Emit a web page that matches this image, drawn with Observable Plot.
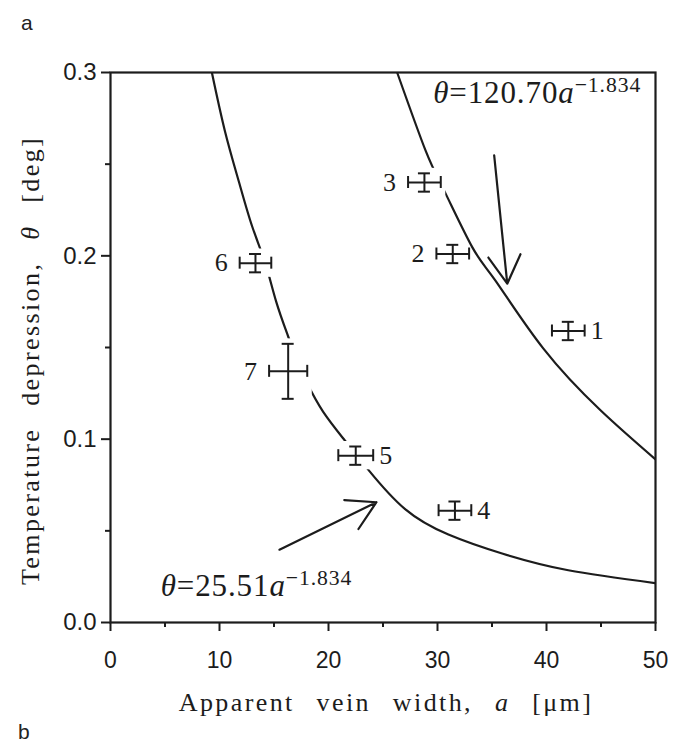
<!DOCTYPE html>
<html><head><meta charset="utf-8">
<script src="https://cdn.jsdelivr.net/npm/d3@7"></script>
<script src="https://cdn.jsdelivr.net/npm/@observablehq/plot@0.6"></script>
<style>
body{margin:0;background:#fff;}
#wrap{position:relative;width:687px;height:744px;overflow:hidden;background:#fff;}
.panel{position:absolute;z-index:2;font-family:"Liberation Sans",Arial,sans-serif;font-size:21px;color:#222;}
</style></head><body>
<div id="wrap"></div>
<script>
// ---- data ----
const ids = [1, 2, 3, 4, 5, 6, 7];
const widths = [42.0, 31.4, 28.8, 31.6, 22.5, 13.3, 16.3];          // a [µm]
const depressions = [0.159, 0.201, 0.240, 0.061, 0.091, 0.196, 0.137]; // θ [deg]
const widthErr = [1.5, 1.5, 1.5, 1.5, 1.6, 1.45, 1.75];
const depErr = [0.005, 0.005, 0.005, 0.005, 0.005, 0.005, 0.015];
const labelSide = ["right", "left", "left", "right", "right", "left", "left"];
const haloIds = [3, 5, 6, 7];

// fitted curves as drawn
const upperA = [26.3, 28.9, 30.6, 33.2, 35.3, 39.7, 45.0, 50.0];
const upperT = [0.300, 0.2575, 0.2357, 0.2046, 0.1866, 0.1495, 0.1155, 0.089];
const lowerA = [9.3, 10.5, 11.8, 13.0, 14.2, 15.2, 16.3, 17.1, 18.0, 19.5, 21.5, 23.7, 27.0, 31.0, 36.0, 42.0, 50.0];
const lowerT = [0.300, 0.268, 0.240, 0.216, 0.196, 0.175, 0.156, 0.143, 0.131, 0.115, 0.0993, 0.083, 0.062, 0.048, 0.0375, 0.0285, 0.0215];

// annotations
const curveLabels = ["*θ*=120.70*a*^−1.834^", "*θ*=25.51*a*^−1.834^"];
const curveLabelA = [29.6, 4.6];
const curveLabelT = [0.2835, 0.0145];
const arrowFromA = [35.2, 15.5], arrowFromT = [0.2548, 0.0397];
const arrowToA = [36.4, 24.4], arrowToT = [0.1848, 0.0656];

const xTicks = [0, 10, 20, 30, 40, 50];
const xMinor = [5, 15, 25, 35, 45];
const yTicks = [0, 0.1, 0.2, 0.3];
const yMinor = [0.05, 0.15, 0.25];
const xTitle = "Apparent vein width, *a* [μm]";
const yTitle = "Temperature depression, *θ* [deg]";

// ---- tables ----
const pts = ids.map((id, i) => ({id, a: widths[i], t: depressions[i], ea: widthErr[i], et: depErr[i], side: labelSide[i]}));
const upper = upperA.map((a, i) => ({a, t: upperT[i]}));
const lower = lowerA.map((a, i) => ({a, t: lowerT[i]}));
const labels = curveLabels.map((s, i) => ({s, a: curveLabelA[i], t: curveLabelT[i]}));
const arrows = arrowFromA.map((a, i) => ({a1: a, t1: arrowFromT[i], a2: arrowToA[i], t2: arrowToT[i]}));

const ink = "#1c1c1c";
const serif = "Liberation Serif, serif";

const chart = Plot.plot({
  width: 687, height: 744,
  marginLeft: 110, marginRight: 32, marginTop: 72, marginBottom: 122,
  style: {fontFamily: "Liberation Sans, sans-serif", fontSize: "22px", color: ink, background: "transparent"},
  x: {domain: [0, 50], label: null},
  y: {domain: [0, 0.3], label: null},
  marks: [
    Plot.line(upper, {x: "a", y: "t", curve: "natural", stroke: ink, strokeWidth: 2.2, clip: true}),
    Plot.line(lower, {x: "a", y: "t", curve: "natural", stroke: ink, strokeWidth: 2.2, clip: true}),
    Plot.rect(pts.filter(d => haloIds.includes(d.id)), {
      x1: d => d.a - d.ea, x2: d => d.a + d.ea, y1: d => d.t - d.et, y2: d => d.t + d.et,
      fill: "white", inset: -5
    }),
    Plot.link(pts, {x1: d => d.a - d.ea, x2: d => d.a + d.ea, y1: "t", y2: "t", stroke: ink, strokeWidth: 2}),
    Plot.link(pts, {x1: "a", x2: "a", y1: d => d.t - d.et, y2: d => d.t + d.et, stroke: ink, strokeWidth: 2}),
    Plot.ruleX(pts, {x: d => d.a - d.ea, y1: "t", y2: "t", insetTop: -6, insetBottom: -6, stroke: ink, strokeWidth: 2}),
    Plot.ruleX(pts, {x: d => d.a + d.ea, y1: "t", y2: "t", insetTop: -6, insetBottom: -6, stroke: ink, strokeWidth: 2}),
    Plot.ruleY(pts, {y: d => d.t - d.et, x1: "a", x2: "a", insetLeft: -6, insetRight: -6, stroke: ink, strokeWidth: 2}),
    Plot.ruleY(pts, {y: d => d.t + d.et, x1: "a", x2: "a", insetLeft: -6, insetRight: -6, stroke: ink, strokeWidth: 2}),
    Plot.text(pts.filter(d => d.side === "left"), {x: d => d.a - d.ea, y: "t", text: d => String(d.id), textAnchor: "end", dx: -12, fontSize: 26, fontFamily: serif, fill: ink}),
    Plot.text(pts.filter(d => d.side === "right"), {x: d => d.a + d.ea, y: "t", text: d => String(d.id), textAnchor: "start", dx: 6, fontSize: 26, fontFamily: serif, fill: ink}),
    Plot.arrow(arrows, {x1: "a1", y1: "t1", x2: "a2", y2: "t2", bend: 0, headLength: 22, stroke: ink, strokeWidth: 2.2}),
    Plot.text(labels, {x: "a", y: "t", text: "s", textAnchor: "start", lineAnchor: "bottom", fontSize: 31, fontFamily: serif, fill: ink}),
    Plot.frame({stroke: ink, strokeWidth: 2.2}),
    Plot.axisX({ticks: xTicks, tickSize: 9, tickPadding: 20, tickFormat: d3.format("d"), strokeWidth: 2, fontSize: 23, label: null}),
    Plot.axisX({ticks: xMinor, tickSize: 5, tickFormat: () => "", strokeWidth: 2, label: null}),
    Plot.axisY({ticks: yTicks, tickSize: 9, tickPadding: 5, tickFormat: d3.format(".1f"), strokeWidth: 2, fontSize: 24, label: null}),
    Plot.axisY({ticks: yMinor, tickSize: 5, tickFormat: () => "", strokeWidth: 2, label: null}),
    Plot.text([xTitle], {frameAnchor: "bottom", text: d => d, textAnchor: "middle", dy: 88, dx: 3, fontSize: 26, fontFamily: serif, fill: ink}),
    Plot.text([yTitle], {frameAnchor: "left", text: d => d, textAnchor: "middle", rotate: -90, dx: -80, dy: 13, fontSize: 26, fontFamily: serif, fill: ink})
  ]
});

const wrap = document.getElementById("wrap");
wrap.appendChild(chart);
const pa = document.createElement("div"); pa.className = "panel"; pa.style.left = "21px"; pa.style.top = "11px"; pa.textContent = "a";
const pb = document.createElement("div"); pb.className = "panel"; pb.style.left = "18px"; pb.style.top = "720px"; pb.textContent = "b";
wrap.appendChild(pa); wrap.appendChild(pb);

// rich text: *italic*, ^superscript^
const NS = "http://www.w3.org/2000/svg";
chart.querySelectorAll("text").forEach(t => {
  const s = t.textContent;
  if (!/[*^]/.test(s)) return;
  const isTitle = s === xTitle || s === yTitle;
  t.textContent = "";
  const re = /(\*[^*]+\*|\^[^^]+\^|[^*^]+)/g; let m;
  while ((m = re.exec(s))) {
    const tok = m[0];
    const ts = document.createElementNS(NS, "tspan");
    if (tok[0] === "*") { ts.setAttribute("font-style", "italic"); ts.textContent = tok.slice(1, -1); }
    else if (tok[0] === "^") { ts.setAttribute("font-size", "0.7em"); ts.setAttribute("dy", "-0.5em"); ts.textContent = tok.slice(1, -1); }
    else ts.textContent = tok;
    t.appendChild(ts);
  }
  if (isTitle) { t.style.letterSpacing = "2.4px"; t.style.wordSpacing = "13px"; }
  else { t.style.letterSpacing = "0.9px"; }
});
</script>
</body></html>
